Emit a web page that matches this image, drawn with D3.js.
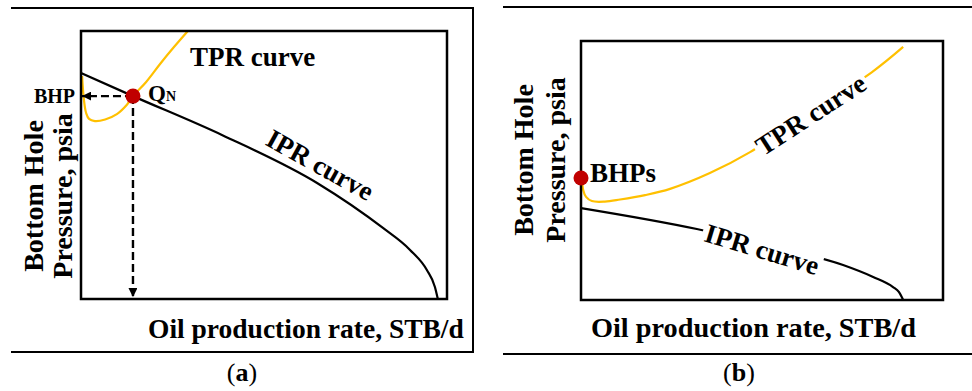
<!DOCTYPE html>
<html>
<head>
<meta charset="utf-8">
<script src="https://cdn.jsdelivr.net/npm/d3@7"></script>
<style>
  html, body { margin: 0; padding: 0; background: #fff; }
  svg { display: block; }
  text { font-family: "Liberation Serif", "Times New Roman", serif; font-weight: bold; fill: #000; }
</style>
</head>
<body>
<svg id="chart" width="972" height="391"></svg>
<script>
// Panel (a): natural-flow operating point (relative rate / pressure units, 0-100)
const iprRateA  = [0, 14.2, 38.5, 64.5, 82.5, 89.9, 94.5, 96.7, 97.5];
const iprPressA = [84.3, 75.7, 61.2, 43.3, 26.5, 18.3, 10.8, 4.5, 0];
const tprRateA  = [0.3, 0.8, 1.4, 2.2, 3.8, 6.6, 9.8, 12.6, 14.2, 17.8, 21.6, 25.4, 29.2];
const tprPressA = [83.2, 74.3, 69.4, 67.2, 66.4, 67.0, 69.0, 72.6, 75.7, 81.0, 87.7, 94.0, 100];
const opRateA = 14.2, opPressA = 75.7;

// Panel (b): well that cannot flow; TPR stays above IPR
const iprRateB  = [0, 32.0, 52.2, 72.4, 80.7, 86.2, 87.8, 89.0];
const iprPressB = [35.5, 27.4, 20.8, 13.5, 8.9, 5.0, 3.1, 0];
const tprRateB  = [0.3, 0.6, 1.4, 3.0, 6.6, 10.8, 17.7, 24.6, 35.6, 46.7, 63.5, 80.4, 89.0];
const tprPressB = [46.7, 42.5, 39.8, 38.2, 38.0, 38.8, 40.5, 42.9, 49.0, 57.1, 72.6, 88.0, 97.7];
const bhpsRateB = 0, bhpsPressB = 47.1;

const xTitle = "Oil production rate, STB/d";
const yTitle = ["Bottom Hole", "Pressure, psia"];

const TPR_COLOR = "#FFC000";
const DOT_COLOR = "#C00000";

const svg = d3.select("#chart");

// arrowhead for the dashed read-off lines
svg.append("defs").append("marker")
  .attr("id", "arrow")
  .attr("viewBox", "0 0 10 10")
  .attr("refX", 10).attr("refY", 5)
  .attr("markerWidth", 9).attr("markerHeight", 9)
  .attr("markerUnits", "userSpaceOnUse")
  .attr("orient", "auto")
  .append("path").attr("d", "M0,0 L10,5 L0,10 Z").attr("fill", "#000");

const zip = (xs, ys) => xs.map((x, i) => [x, ys[i]]);

function frame(x0, y0, x1, y1) {
  svg.append("path")
    .attr("d", `M${x1},${y0} L${x0},${y0} L${x0},${y1} L${x1},${y1}`)
    .attr("fill", "none").attr("stroke", "#000").attr("stroke-width", 2);
}

function plotBox(x, y) {
  const [xa, xb] = x.range(), [ya, yb] = y.range();
  svg.append("rect")
    .attr("x", xa).attr("y", yb).attr("width", xb - xa).attr("height", ya - yb)
    .attr("fill", "none").attr("stroke", "#000").attr("stroke-width", 2.5);
}

function curve(x, y, pts, color, curveType) {
  const line = d3.line().x(d => x(d[0])).y(d => y(d[1])).curve(curveType);
  svg.append("path").attr("d", line(pts))
    .attr("fill", "none").attr("stroke", color).attr("stroke-width", 2.2)
    .attr("stroke-linecap", "butt");
}

// label laid along a curve, masking the line behind it
function curveLabel(px, py, angle, str, size) {
  const g = svg.append("g").attr("transform", `translate(${px},${py}) rotate(${angle})`);
  const bg = g.append("rect").attr("fill", "#fff");
  const t = g.append("text").attr("text-anchor", "middle").attr("dominant-baseline", "central")
    .style("font-size", size + "px").text(str);
  const b = t.node().getBBox();
  bg.attr("x", b.x - 3).attr("y", b.y).attr("width", b.width + 6).attr("height", b.height);
}

function axisTitles(xStart, xBase, xSize, yCenter, yBases) {
  svg.append("text").attr("x", xStart).attr("y", xBase)
    .style("font-size", xSize + "px").text(xTitle);
  yTitle.forEach((s, i) => {
    svg.append("text")
      .attr("transform", `translate(${yBases[i]},${yCenter}) rotate(-90)`)
      .attr("text-anchor", "middle").style("font-size", "28px").text(s);
  });
}

function caption(cx, letter) {
  const t = svg.append("text").attr("x", cx).attr("y", 381).attr("text-anchor", "middle")
    .style("font-size", "26px");
  t.append("tspan").style("font-weight", "normal").text("(");
  t.append("tspan").text(letter);
  t.append("tspan").style("font-weight", "normal").text(")");
}

// ---------- Panel (a) ----------
{
  frame(473, 8, 11, 352);
  svg.append("line").attr("x1", 473).attr("y1", 8).attr("x2", 473).attr("y2", 352)
    .attr("stroke", "#000").attr("stroke-width", 2);
  const x = d3.scaleLinear().domain([0, 100]).range([81, 447]);
  const y = d3.scaleLinear().domain([0, 100]).range([299, 31]);

  curve(x, y, zip(iprRateA, iprPressA), "#000", d3.curveMonotoneX);
  curve(x, y, zip(tprRateA, tprPressA), TPR_COLOR, d3.curveCatmullRom.alpha(0.5));
  plotBox(x, y);

  // dashed read-off to the pressure axis and to the rate axis
  svg.append("line")
    .attr("x1", x(opRateA)).attr("y1", y(opPressA)).attr("x2", x(0) + 1).attr("y2", y(opPressA))
    .attr("stroke", "#000").attr("stroke-width", 2.4).attr("stroke-dasharray", "8,4")
    .attr("marker-end", "url(#arrow)");
  svg.append("line")
    .attr("x1", x(opRateA)).attr("y1", y(opPressA)).attr("x2", x(opRateA)).attr("y2", y(0) - 2)
    .attr("stroke", "#000").attr("stroke-width", 2.4).attr("stroke-dasharray", "8,4")
    .attr("marker-end", "url(#arrow)");

  svg.append("circle").attr("cx", x(opRateA)).attr("cy", y(opPressA)).attr("r", 7.5)
    .attr("fill", DOT_COLOR);

  svg.append("text").attr("x", 75).attr("y", y(opPressA) + 7).attr("text-anchor", "end")
    .style("font-size", "20px").text("BHP");

  const qn = svg.append("text").attr("x", 148).attr("y", 101).style("font-size", "23px");
  qn.append("tspan").text("Q");
  qn.append("tspan").style("font-size", "14px").text("N");

  svg.append("text").attr("x", 190).attr("y", 66).style("font-size", "27px").text("TPR curve");

  const g = svg.append("g").attr("transform", `translate(320,165) rotate(29)`);
  g.append("text").attr("text-anchor", "middle").attr("dominant-baseline", "central")
    .style("font-size", "27px").text("IPR curve");

  axisTitles(148, 338, 27.5, 196, [43, 72]);
  caption(242, "a");
}

// ---------- Panel (b) ----------
{
  frame(980, 7, 503, 354);
  const x = d3.scaleLinear().domain([0, 100]).range([581, 943]);
  const y = d3.scaleLinear().domain([0, 100]).range([300, 41]);

  curve(x, y, zip(iprRateB, iprPressB), "#000", d3.curveMonotoneX);
  curve(x, y, zip(tprRateB, tprPressB), TPR_COLOR, d3.curveCatmullRom.alpha(0.5));

  curveLabel(x(63.5), y(71.5), -33, "TPR curve", 27);
  curveLabel(x(50.0), y(19.5), 17, "IPR curve", 27);

  plotBox(x, y);

  svg.append("circle").attr("cx", x(bhpsRateB)).attr("cy", y(bhpsPressB)).attr("r", 7.5)
    .attr("fill", DOT_COLOR);
  svg.append("text").attr("x", 590).attr("y", 182).style("font-size", "27px").text("BHPs");

  axisTitles(591, 337, 28.3, 160, [533, 565]);
  caption(739, "b");
}
</script>
</body>
</html>
